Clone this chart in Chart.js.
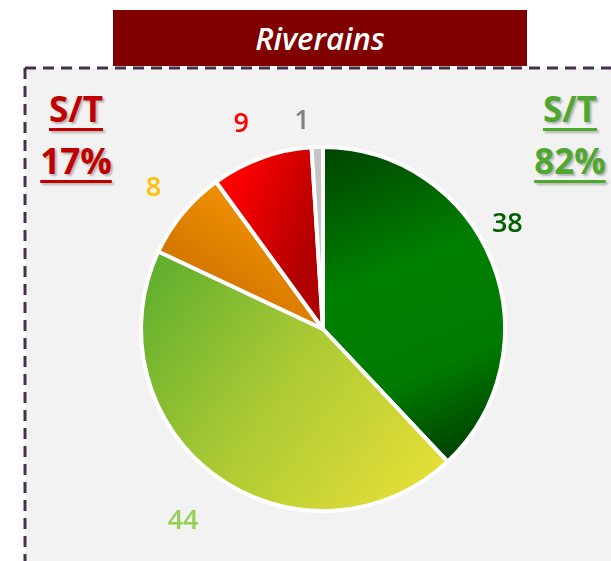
<!DOCTYPE html>
<html>
<head>
<meta charset="utf-8">
<script src="https://cdn.jsdelivr.net/npm/chart.js@4.4.1/dist/chart.umd.min.js"></script>
<style>
  html, body { margin: 0; padding: 0; background: #ffffff; }
  body { width: 611px; height: 561px; overflow: hidden; position: relative; font-family: "Open Sans", "DejaVu Sans", sans-serif; }
  .frame { position: absolute; left: 0; top: 0; }
  .title { position: absolute; left: 113px; top: 10px; width: 414px; height: 56px; background: #800000; color: #fff;
           font-style: italic; font-weight: 600; font-size: 31px; line-height: 56px; text-align: center; }
  .st { position: absolute; width: 120px; text-align: center; font-weight: 700; font-size: 35px; line-height: 52px;
        text-decoration: underline; text-decoration-thickness: 3px; text-underline-offset: 6px;
        text-shadow: 2px 2px 2px rgba(0,0,0,0.25); }
  #chart { position: absolute; left: 0; top: 0; }
</style>
</head>
<body>
<svg class="frame" width="611" height="561">
  <rect x="25" y="68" width="700" height="600" fill="#f2f2f2"/>
  <line x1="25" y1="68" x2="611" y2="68" stroke="#46304e" stroke-width="3" stroke-dasharray="11 7"/>
  <line x1="25" y1="68" x2="25" y2="561" stroke="#46304e" stroke-width="3" stroke-dasharray="11 7"/>
</svg>
<div class="title">Riverains</div>
<div class="st" style="left:16px; top:83px; color:#c00000;">S/T<br>17%</div>
<div class="st" style="left:510px; top:83px; color:#4ea72e;">S/T<br>82%</div>
<canvas id="chart" width="611" height="561"></canvas>
<script>
const categories = ['S', 'T+', 'T-', 'NS', 'NR'];
const values = [38, 44, 8, 9, 1];
const labelColors = ['#006000', '#92d050', '#ffc000', '#ff0000', '#808080'];
// radial distance (beyond the rim) and angle nudge for each outside label
const labelGap = [30, 56, 38, 38, 27];
const labelNudge = [-8, 0, 0, -2, -4];

function sliceFill(context) {
  const chart = context.chart;
  const area = chart.chartArea;
  if (!area) return '#888';
  const g = chart.ctx;
  const cx = (area.left + area.right) / 2;
  const cy = (area.top + area.bottom) / 2;
  const r = (Math.min(area.width, area.height) - 4) / 2;
  let grad;
  switch (context.dataIndex) {
    case 0:
      grad = g.createLinearGradient(cx, cy - r, cx + r * 0.75, cy + r * 0.8);
      grad.addColorStop(0, '#004400');
      grad.addColorStop(0.4, '#008000');
      grad.addColorStop(0.7, '#007a00');
      grad.addColorStop(1, '#003800');
      return grad;
    case 1:
      grad = g.createLinearGradient(cx - r * 0.95, cy - r * 0.35, cx + r * 0.6, cy + r * 0.8);
      grad.addColorStop(0, '#5fae2e');
      grad.addColorStop(0.5, '#acca34');
      grad.addColorStop(1, '#e3de37');
      return grad;
    case 2:
      grad = g.createLinearGradient(cx - r * 0.9, cy - r * 0.2, cx - r * 0.5, cy - r * 0.8);
      grad.addColorStop(0, '#c86c00');
      grad.addColorStop(1, '#f29200');
      return grad;
    case 3:
      grad = g.createLinearGradient(cx - r * 0.5, cy - r * 0.8, cx, cy - r * 0.6);
      grad.addColorStop(0, '#ff0000');
      grad.addColorStop(1, '#b00000');
      return grad;
    default:
      return '#c4c4c4';
  }
}

const outsideLabels = {
  id: 'outsideLabels',
  afterDatasetsDraw(chart) {
    const g = chart.ctx;
    const meta = chart.getDatasetMeta(0);
    g.save();
    g.font = '600 27px "Open Sans", "DejaVu Sans", sans-serif';
    g.textAlign = 'center';
    g.textBaseline = 'middle';
    meta.data.forEach((arc, i) => {
      const mid = (arc.startAngle + arc.endAngle) / 2 + labelNudge[i] * Math.PI / 180;
      const d = arc.outerRadius + labelGap[i];
      g.fillStyle = labelColors[i];
      g.fillText(String(values[i]), arc.x + Math.cos(mid) * d, arc.y + Math.sin(mid) * d);
    });
    g.restore();
  }
};

new Chart(document.getElementById('chart'), {
  type: 'pie',
  data: {
    labels: categories,
    datasets: [{ data: values, backgroundColor: sliceFill, borderColor: '#ffffff', borderWidth: 4 }]
  },
  options: {
    responsive: false,
    animation: false,
    layout: { padding: { left: 139, right: 104, top: 145, bottom: 48 } },
    plugins: { legend: { display: false }, tooltip: { enabled: false } }
  },
  plugins: [outsideLabels]
});
</script>
</body>
</html>
